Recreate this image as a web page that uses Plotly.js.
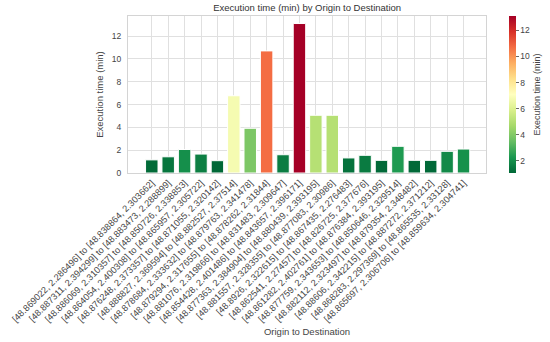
<!DOCTYPE html>
<html>
<head>
<meta charset="utf-8">
<script src="https://cdn.plot.ly/plotly-3.0.1.min.js"></script>
<style>html,body{margin:0;padding:0;background:#fff;}#chart{width:550px;height:342px;}</style>
</head>
<body>
<div id="chart"></div>
<script>
var routes = [
  "[48.869022, 2.286496] to [48.838864, 2.303662]",
  "[48.887311, 2.394299] to [48.883473, 2.288899]",
  "[48.886069, 2.310357] to [48.850726, 2.338853]",
  "[48.864054, 2.400308] to [48.865957, 2.305722]",
  "[48.876248, 2.373357] to [48.871055, 2.320142]",
  "[48.888827, 2.369594] to [48.882527, 2.37514]",
  "[48.878684, 2.333632] to [48.879763, 2.341478]",
  "[48.879294, 2.317655] to [48.878262, 2.31844]",
  "[48.881076, 2.319866] to [48.831483, 2.309647]",
  "[48.854428, 2.401486] to [48.843657, 2.396171]",
  "[48.877363, 2.384904] to [48.880439, 2.393195]",
  "[48.881557, 2.328355] to [48.877083, 2.30986]",
  "[48.8926, 2.322615] to [48.867435, 2.276483]",
  "[48.862541, 2.27457] to [48.826725, 2.377676]",
  "[48.861282, 2.402761] to [48.876384, 2.393195]",
  "[48.877759, 2.343653] to [48.850646, 2.329514]",
  "[48.882112, 2.323497] to [48.879354, 2.348482]",
  "[48.88606, 2.342215] to [48.887272, 2.371212]",
  "[48.868283, 2.297369] to [48.865535, 2.33128]",
  "[48.865697, 2.306706] to [48.859634, 2.304741]"
];
var execMinutes = [1.15, 1.42, 2.06, 1.66, 1.08, 6.77, 3.92, 10.7, 1.6, 13.1,
                   5.06, 5.06, 1.32, 1.55, 1.11, 2.34, 1.11, 1.11, 1.9, 2.1];

var rdylgnR = [
  [0.0, "#006837"], [0.1, "#1a9850"], [0.2, "#66bd63"], [0.3, "#a6d96a"],
  [0.4, "#d9ef8b"], [0.5, "#ffffbf"], [0.6, "#fee08b"], [0.7, "#fdae61"],
  [0.8, "#f46d43"], [0.9, "#d73027"], [1.0, "#a50026"]
];
var vmin = Math.min.apply(null, execMinutes);
var vmax = Math.max.apply(null, execMinutes);
var idx = routes.map(function(_, i){ return i; });
var font = "Liberation Sans, Arial, sans-serif";

var trace = {
  type: "bar",
  x: idx,
  y: execMinutes,
  width: 0.76,
  marker: {
    color: execMinutes,
    colorscale: rdylgnR,
    cmin: vmin,
    cmax: vmax,
    line: {color: "#ffffff", width: 1},
    showscale: true,
    colorbar: {
      x: (509 - 128) / (550 - 128 - 64), xanchor: "left", xref: "paper", xpad: 0, ypad: 0,
      y: 0.5, yanchor: "middle", len: 1, lenmode: "fraction",
      thickness: 7, outlinewidth: 0,
      ticks: "outside", ticklen: 3, tickwidth: 0.8, tickcolor: "#444",
      tickvals: [2, 4, 6, 8, 10, 12],
      tickfont: {size: 8.5, color: "#444", family: font},
      title: {text: "Execution time (min)", side: "right", font: {size: 9, color: "#444", family: font}}
    }
  },
  hoverinfo: "x+y"
};

var layout = {
  width: 550, height: 342,
  margin: {l: 128, r: 64, t: 16, b: 169, autoexpand: false},
  paper_bgcolor: "#ffffff",
  plot_bgcolor: "#ffffff",
  showlegend: false,
  title: {text: "Execution time (min) by Origin to Destination", x: 0.5585, xanchor: "center", y: 0.977, yanchor: "middle",
          font: {size: 9.5, color: "#333", family: font}},
  xaxis: {
    range: [-1.45, 20.37],
    tickmode: "array", tickvals: idx, ticktext: routes,
    tickangle: -45, tickfont: {size: 9.2, color: "#444", family: font},
    showgrid: true, gridcolor: "#e0e0e0", gridwidth: 1,
    showline: true, mirror: true, linecolor: "#d4d4d4", linewidth: 1,
    ticks: "", zeroline: false, automargin: false,
    title: {text: "Origin to Destination", standoff: 5, font: {size: 9.5, color: "#444", family: font}}
  },
  yaxis: {
    range: [0, 13.76],
    tickvals: [0, 2, 4, 6, 8, 10, 12],
    tickfont: {size: 8.5, color: "#444", family: font},
    showgrid: true, gridcolor: "#e0e0e0", gridwidth: 1,
    showline: true, mirror: true, linecolor: "#d4d4d4", linewidth: 1,
    ticks: "", zeroline: false, automargin: false, ticklabelstandoff: 4,
    title: {text: "Execution time (min)", standoff: 6, font: {size: 9.5, color: "#444", family: font}}
  },
  bargap: 0.2
};

Plotly.newPlot("chart", [trace], layout, {displayModeBar: false, staticPlot: true});
</script>
</body>
</html>
